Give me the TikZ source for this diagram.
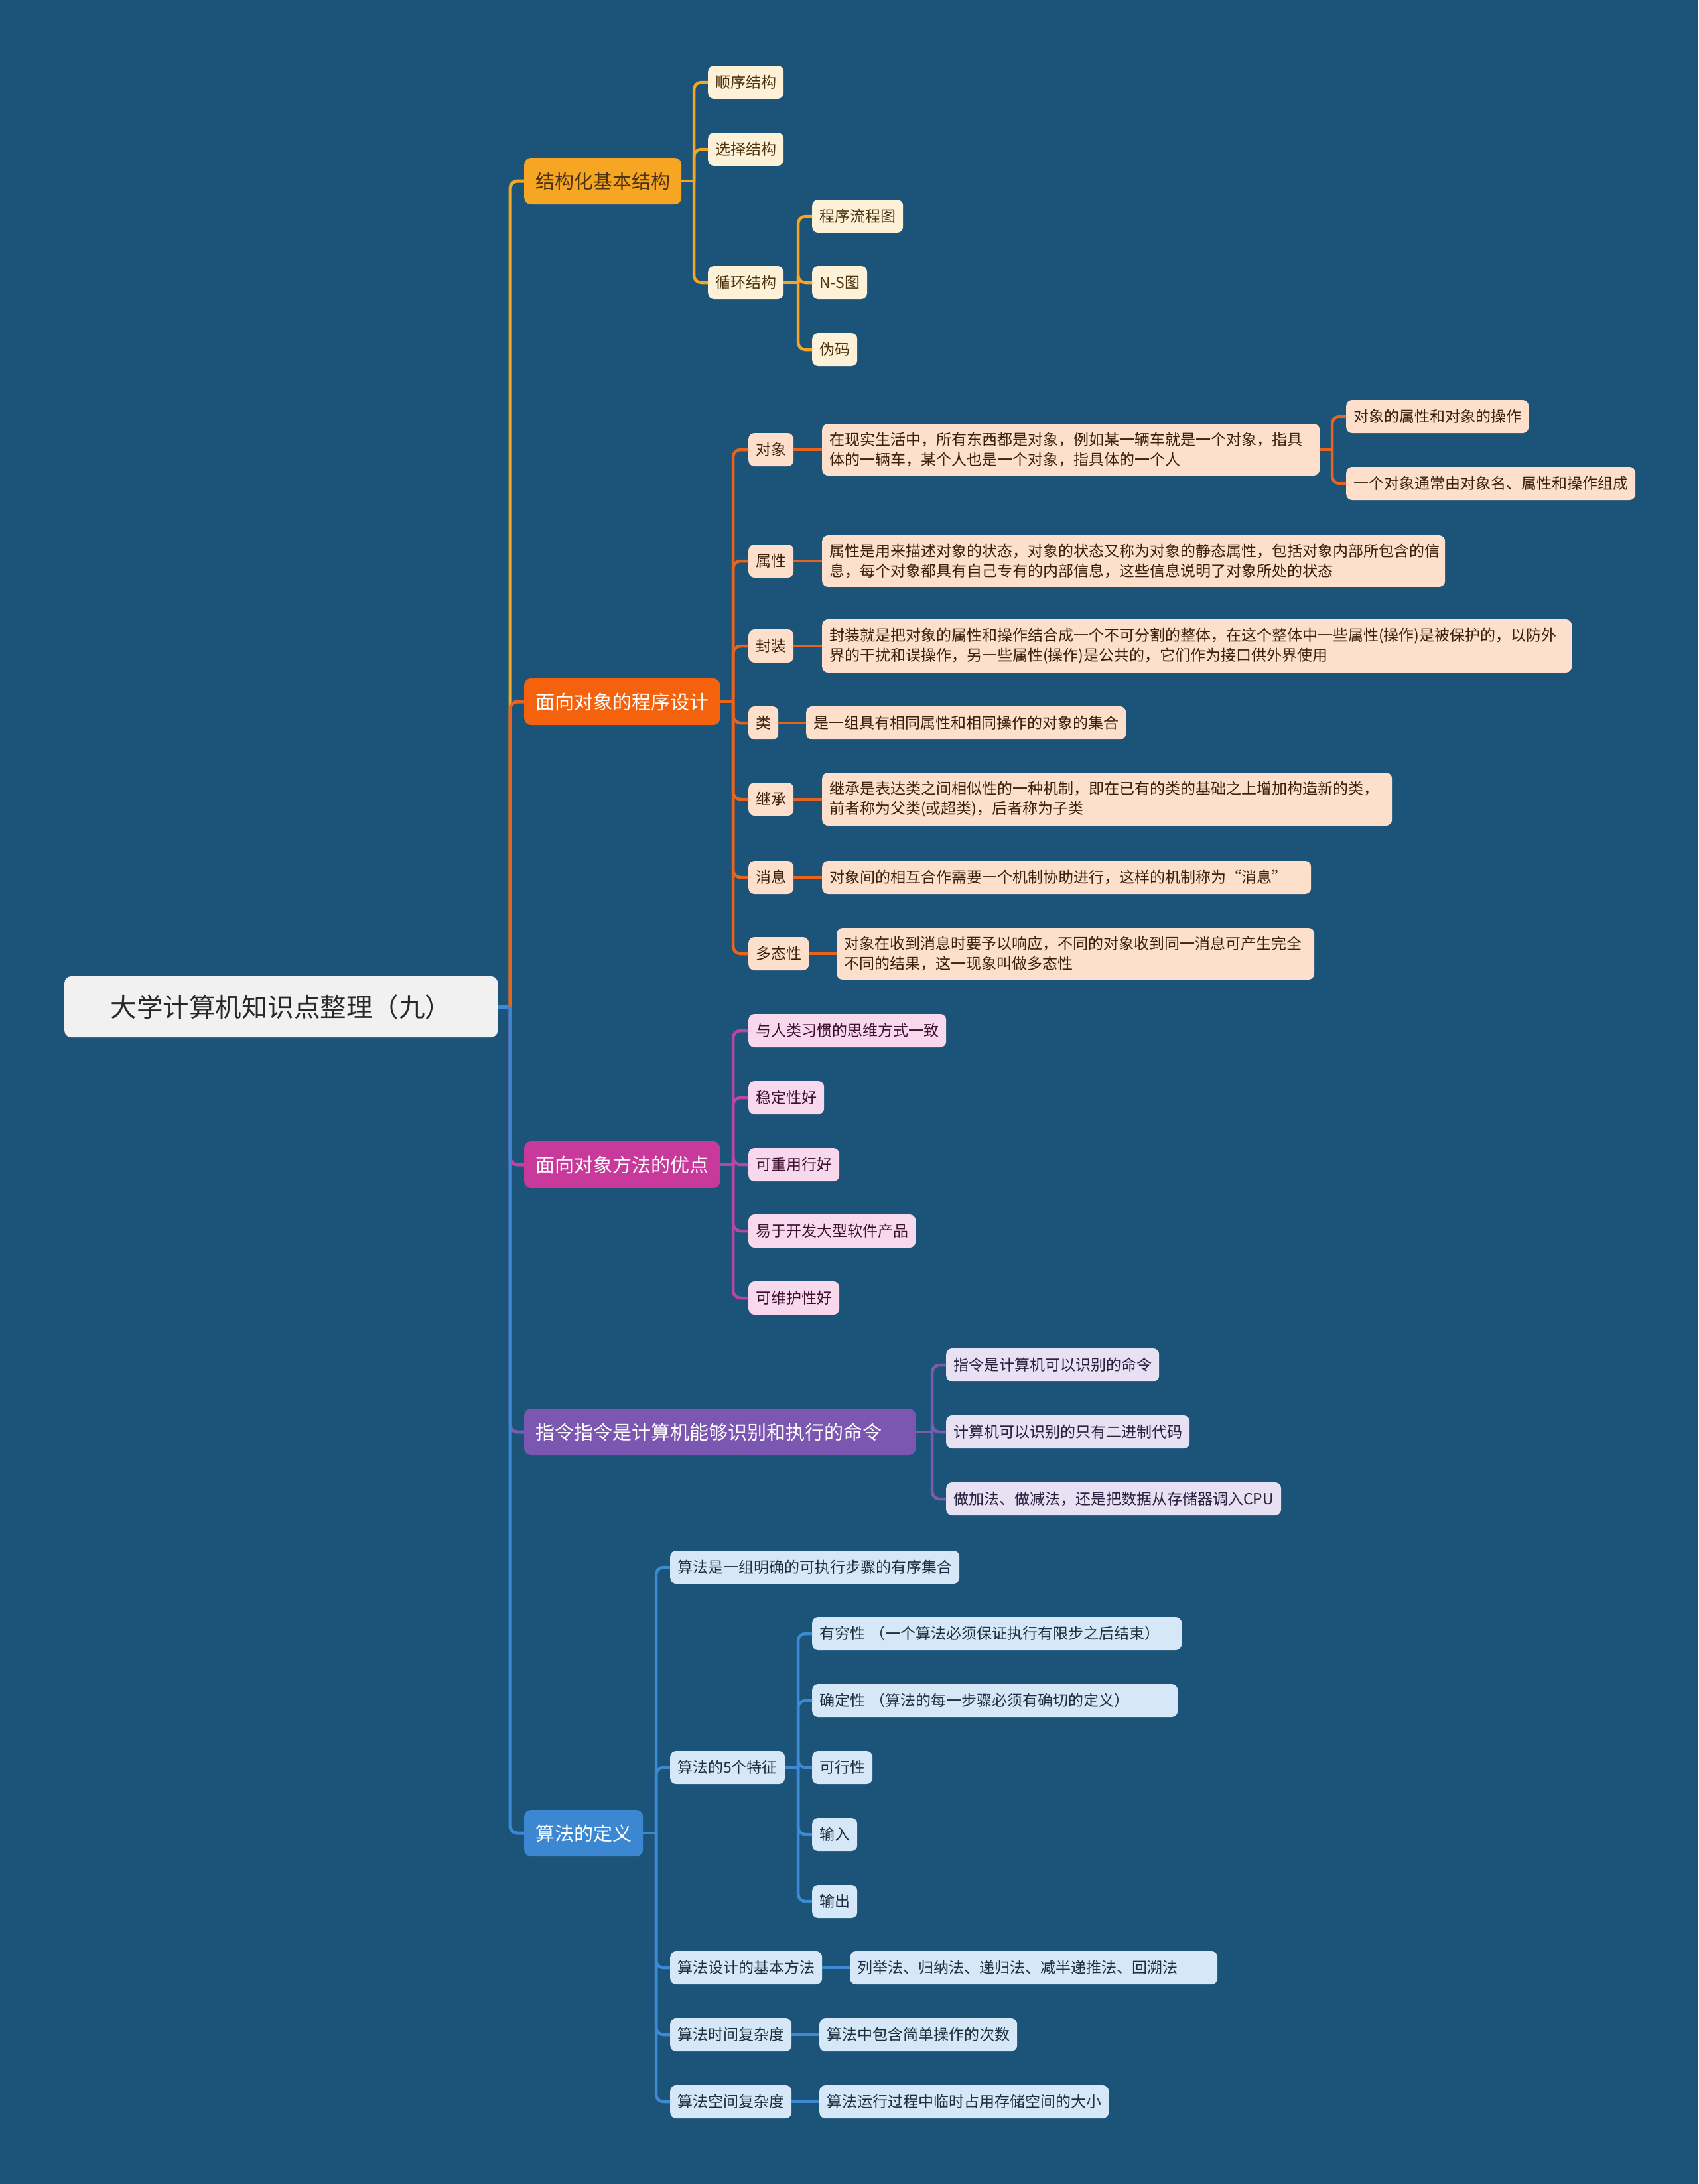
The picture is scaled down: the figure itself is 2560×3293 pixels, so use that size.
\documentclass[tikz,border=0pt]{standalone}
\usepackage{fontspec}
\newfontfamily\cjk{Noto Sans CJK SC}
\usetikzlibrary{calc}
\definecolor{bg}{RGB}{27,84,120}
\definecolor{m1c}{RGB}{246,166,35}
\definecolor{l1f}{RGB}{253,241,216}
\definecolor{t1c}{RGB}{77,52,14}
\definecolor{m2c}{RGB}{244,98,14}
\definecolor{k2c}{RGB}{232,100,30}
\definecolor{l2f}{RGB}{253,223,204}
\definecolor{t2c}{RGB}{61,31,15}
\definecolor{m3c}{RGB}{200,57,155}
\definecolor{k3c}{RGB}{185,69,165}
\definecolor{l3f}{RGB}{247,216,236}
\definecolor{t3c}{RGB}{61,16,48}
\definecolor{m4c}{RGB}{124,87,177}
\definecolor{k4c}{RGB}{122,92,176}
\definecolor{l4f}{RGB}{231,225,243}
\definecolor{t4c}{RGB}{43,33,64}
\definecolor{m5c}{RGB}{59,135,209}
\definecolor{k5c}{RGB}{60,137,212}
\definecolor{l5f}{RGB}{214,231,247}
\definecolor{t5c}{RGB}{29,47,69}
\definecolor{rootf}{RGB}{241,241,241}
\begin{document}
\begin{tikzpicture}[x=1pt,y=-1pt,
  boxbase/.style={anchor=west, inner ysep=0pt, align=left},
  rootbox/.style={boxbase, fill=rootf, text={rgb,255:red,40;green,40;blue,40}, rounded corners=10pt,
    minimum width=653pt, minimum height=92pt, align=center, font=\cjk\fontsize{39.5}{46}\selectfont},
  mainbox/.style={boxbase, rounded corners=10pt, inner xsep=17pt, minimum height=70pt,
    font=\cjk\fontsize{29}{36}\selectfont},
  leafbox/.style={boxbase, rounded corners=9pt, inner xsep=11pt, inner ysep=13pt, minimum height=50pt,
    font=\cjk\fontsize{23}{30}\selectfont},
  ma/.style={mainbox, fill=m1c, text=t1c},
  mb/.style={mainbox, fill=m2c, text=white},
  mc/.style={mainbox, fill=m3c, text=white},
  md/.style={mainbox, fill=m4c, text=white},
  me/.style={mainbox, fill=m5c, text=white},
  la/.style={leafbox, fill=l1f, text=t1c},
  lb/.style={leafbox, fill=l2f, text=t2c},
  lc/.style={leafbox, fill=l3f, text=t3c},
  ld/.style={leafbox, fill=l4f, text=t4c},
  le/.style={leafbox, fill=l5f, text=t5c},
  wire/.style={line width=4.5pt, rounded corners=11pt},
  wa/.style={wire, draw=m1c},
  wb/.style={wire, draw=k2c},
  wc/.style={wire, draw=k3c},
  wd/.style={wire, draw=k4c},
  we/.style={wire, draw=k5c}
]
\fill[bg] (0,0) rectangle (2560,3293);
\useasboundingbox (0,0) rectangle (2560,3293);

% root
\node[rootbox] (root) at (97,1518) {大学计算机知识点整理（九）};
\coordinate (rootj) at (769,1518);

% main branches
\node[ma] (b1) at (790,273) {结构化基本结构};
\node[mb] (b2) at (790,1058) {面向对象的程序设计};
\node[mc] (b3) at (790,1756) {面向对象方法的优点};
\node[md, text width=556pt] (b4) at (790,2159) {指令指令是计算机能够识别和执行的命令};
\node[me] (b5) at (790,2764) {算法的定义};

% branch 1
\coordinate (b1j) at (1046,273);
\node[la] (a1) at (1067,124) {顺序结构};
\node[la] (a2) at (1067,225) {选择结构};
\node[la] (a3) at (1067,426) {循环结构};
\coordinate (a3j) at (1203,426);
\node[la] (a31) at (1224,326) {程序流程图};
\node[la] (a32) at (1224,426) {N-S图};
\node[la] (a33) at (1224,527) {伪码};

% branch 2
\coordinate (b2j) at (1105,1058);
\node[lb] (o1) at (1128,678) {对象};
\node[lb, text width=728pt] (o1d) at (1239,678) {在现实生活中，所有东西都是对象，例如某一辆车就是一个对象，指具\\体的一辆车，某个人也是一个对象，指具体的一个人};
\coordinate (o1dj) at (2008,678);
\node[lb] (o1a) at (2029,628) {对象的属性和对象的操作};
\node[lb] (o1b) at (2029,729) {一个对象通常由对象名、属性和操作组成};
\node[lb] (o2) at (1128,846) {属性};
\node[lb, text width=917pt] (o2d) at (1239,846) {属性是用来描述对象的状态，对象的状态又称为对象的静态属性，包括对象内部所包含的信\\息，每个对象都具有自己专有的内部信息，这些信息说明了对象所处的状态};
\node[lb] (o3) at (1128,974) {封装};
\node[lb, text width=1108pt] (o3d) at (1239,974) {封装就是把对象的属性和操作结合成一个不可分割的整体，在这个整体中一些属性(操作)是被保护的，以防外\\界的干扰和误操作，另一些属性(操作)是公共的，它们作为接口供外界使用};
\node[lb] (o4) at (1128,1090) {类};
\node[lb] (o4d) at (1215,1090) {是一组具有相同属性和相同操作的对象的集合};
\node[lb] (o5) at (1128,1205) {继承};
\node[lb, text width=837pt] (o5d) at (1239,1205) {继承是表达类之间相似性的一种机制，即在已有的类的基础之上增加构造新的类，\\前者称为父类(或超类)，后者称为子类};
\node[lb] (o6) at (1128,1323) {消息};
\node[lb, text width=715pt] (o6d) at (1239,1323) {对象间的相互合作需要一个机制协助进行，这样的机制称为“消息”};
\node[lb] (o7) at (1128,1438) {多态性};
\node[lb, text width=698pt] (o7d) at (1261,1438) {对象在收到消息时要予以响应，不同的对象收到同一消息可产生完全\\不同的结果，这一现象叫做多态性};

% branch 3
\coordinate (b3j) at (1105,1756);
\node[lc] (p1) at (1128,1554) {与人类习惯的思维方式一致};
\node[lc] (p2) at (1128,1655) {稳定性好};
\node[lc] (p3) at (1128,1756) {可重用行好};
\node[lc] (p4) at (1128,1856) {易于开发大型软件产品};
\node[lc] (p5) at (1128,1957) {可维护性好};

% branch 4
\coordinate (b4j) at (1405,2159);
\node[ld] (q1) at (1426,2058) {指令是计算机可以识别的命令};
\node[ld] (q2) at (1426,2159) {计算机可以识别的只有二进制代码};
\node[ld] (q3) at (1426,2260) {做加法、做减法，还是把数据从存储器调入CPU};

% branch 5
\coordinate (b5j) at (989,2764);
\node[le] (f1) at (1010,2363) {算法是一组明确的可执行步骤的有序集合};
\node[le] (f2) at (1010,2665) {算法的5个特征};
\coordinate (f2j) at (1203,2665);
\node[le, text width=535pt] (f21) at (1224,2463) {有穷性 （一个算法必须保证执行有限步之后结束）};
\node[le, text width=529pt] (f22) at (1224,2564) {确定性 （算法的每一步骤必须有确切的定义）};
\node[le] (f23) at (1224,2665) {可行性};
\node[le] (f24) at (1224,2766) {输入};
\node[le] (f25) at (1224,2867) {输出};
\node[le] (f3) at (1010,2967) {算法设计的基本方法};
\node[le, text width=532pt] (f3d) at (1281,2967) {列举法、归纳法、递归法、减半递推法、回溯法};
\node[le] (f4) at (1010,3068) {算法时间复杂度};
\node[le] (f4d) at (1235,3068) {算法中包含简单操作的次数};
\node[le] (f5) at (1010,3169) {算法空间复杂度};
\node[le] (f5d) at (1235,3169) {算法运行过程中临时占用存储空间的大小};

% ---- connectors: root to main branches
\draw[wa, line width=5pt] (rootj) |- (b1.west);
\draw[wb, line width=5pt] (rootj) |- (b2.west);
\draw[wc, line width=5pt] (rootj) |- (b3.west);
\draw[wd, line width=5pt] (rootj) |- (b4.west);
\draw[we, line width=5pt] (rootj) |- (b5.west);
\draw[we, line width=5pt] (root.east) -- (rootj);

% branch 1
\draw[wa] (b1.east) -- (b1j);
\foreach \c in {a1,a2,a3} \draw[wa] (b1j) |- (\c.west);
\draw[wa] (a3.east) -- (a3j);
\foreach \c in {a31,a32,a33} \draw[wa] (a3j) |- (\c.west);

% branch 2
\draw[wb] (b2.east) -- (b2j);
\foreach \c in {o1,o2,o3,o4,o5,o6,o7} \draw[wb] (b2j) |- (\c.west);
\draw[wb] (o1.east) -- (o1d.west);
\draw[wb] (o2.east) -- (o2d.west);
\draw[wb] (o3.east) -- (o3d.west);
\draw[wb] (o4.east) -- (o4d.west);
\draw[wb] (o5.east) -- (o5d.west);
\draw[wb] (o6.east) -- (o6d.west);
\draw[wb] (o7.east) -- (o7d.west);
\draw[wb] (o1d.east) -- (o1dj);
\foreach \c in {o1a,o1b} \draw[wb] (o1dj) |- (\c.west);

% branch 3
\draw[wc] (b3.east) -- (b3j);
\foreach \c in {p1,p2,p3,p4,p5} \draw[wc] (b3j) |- (\c.west);

% branch 4
\draw[wd] (b4.east) -- (b4j);
\foreach \c in {q1,q2,q3} \draw[wd] (b4j) |- (\c.west);

% branch 5
\draw[we] (b5.east) -- (b5j);
\foreach \c in {f1,f2,f3,f4,f5} \draw[we] (b5j) |- (\c.west);
\draw[we] (f2.east) -- (f2j);
\foreach \c in {f21,f22,f23,f24,f25} \draw[we] (f2j) |- (\c.west);
\draw[we] (f3.east) -- (f3d.west);
\draw[we] (f4.east) -- (f4d.west);
\draw[we] (f5.east) -- (f5d.west);
\end{tikzpicture}
\end{document}
